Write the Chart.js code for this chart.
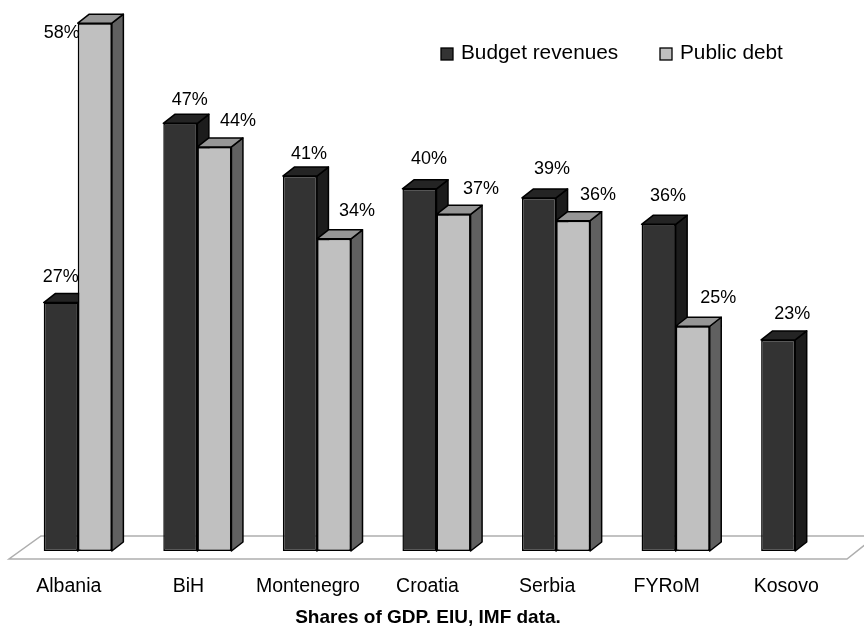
<!DOCTYPE html>
<html>
<head>
<meta charset="utf-8">
<style>
body { margin: 0; background: #fff; }
canvas { display: block; }
</style>
<script src="https://cdn.jsdelivr.net/npm/chart.js@4/dist/chart.umd.min.js"></script>
</head>
<body>
<canvas id="chart" width="864" height="630"></canvas>
<script>
const categories = ['Albania', 'BiH', 'Montenegro', 'Croatia', 'Serbia', 'FYRoM', 'Kosovo'];
const budgetRevenues = [27.3, 47.0, 41.2, 39.8, 38.8, 35.9, 23.2];
const publicDebt = [58.0, 44.4, 34.3, 37.0, 36.3, 24.7, null];
const seriesNames = ['Budget revenues', 'Public debt'];
const footNote = 'Shares of GDP. EIU, IMF data.';

const FONT = '"Liberation Sans", Arial, sans-serif';
const DEPTH_X = 11.5;
const DEPTH_Y = 9;

const SHADES = [
    { front: '#333333', side: '#1c1c1c', top: '#242424' },
    { front: '#c0c0c0', side: '#606060', top: '#969696' }
];

// label nudges from the bar's top centre, hand placed in the original
const LABEL_SHIFTS = [
    [[0, -26], [9.5, -23], [9, -22], [9.5, -30], [13, -29], [9.5, -28], [14, -26]],
    [[-33, 10], [23.5, -26], [23, -28], [27.5, -25], [25, -26], [25.5, -28], [0, 0]]
];

function face(ctx, points, fill) {
    ctx.beginPath();
    points.forEach((p, i) => i ? ctx.lineTo(p[0], p[1]) : ctx.moveTo(p[0], p[1]));
    ctx.closePath();
    ctx.fillStyle = fill;
    ctx.fill();
    ctx.stroke();
}

function drawDepth(chart, index) {
    const { ctx } = chart;
    const shade = SHADES[index];
    const values = chart.data.datasets[index].data;
    ctx.save();
    ctx.strokeStyle = '#000';
    ctx.lineWidth = 1.5;
    ctx.lineJoin = 'round';
    chart.getDatasetMeta(index).data.forEach((bar, i) => {
        if (values[i] === null) return;
        const left = bar.x - bar.width / 2;
        const right = bar.x + bar.width / 2;
        face(ctx, [[right, bar.y], [right + DEPTH_X, bar.y - DEPTH_Y], [right + DEPTH_X, bar.base - DEPTH_Y], [right, bar.base]], shade.side);
        face(ctx, [[left, bar.y], [left + DEPTH_X, bar.y - DEPTH_Y], [right + DEPTH_X, bar.y - DEPTH_Y], [right, bar.y]], shade.top);
    });
    ctx.restore();
}

const depthBars = {
    id: 'depthBars',
    beforeDatasetsDraw(chart) {
        // floor
        const { ctx, chartArea, scales } = chart;
        const base = scales.y.getPixelForValue(0);
        ctx.save();
        ctx.strokeStyle = '#aeaeae';
        ctx.lineWidth = 1.5;
        ctx.beginPath();
        ctx.moveTo(chartArea.right + 20, base - 15);
        ctx.lineTo(chartArea.left + 23, base - 15);
        ctx.lineTo(chartArea.left - 9, base + 8);
        ctx.lineTo(chartArea.right - 8, base + 8);
        ctx.lineTo(chartArea.right + 21, base - 15);
        ctx.stroke();
        ctx.restore();
    },
    afterDatasetsDraw(chart) {
        // dark bars sit behind the light ones, so the light fronts go again on top
        drawDepth(chart, 0);
        const values = chart.data.datasets[1].data;
        chart.getDatasetMeta(1).data.forEach((bar, i) => {
            if (values[i] !== null) bar.draw(chart.ctx);
        });
        drawDepth(chart, 1);
    },
    afterDraw(chart) {
        const { ctx } = chart;
        ctx.save();
        ctx.fillStyle = '#000';
        ctx.textAlign = 'center';
        ctx.textBaseline = 'middle';

        // value labels
        ctx.font = '18px ' + FONT;
        chart.data.datasets.forEach((ds, d) => {
            chart.getDatasetMeta(d).data.forEach((bar, i) => {
                if (ds.data[i] === null) return;
                const shift = LABEL_SHIFTS[d][i];
                ctx.fillText(Math.round(ds.data[i]) + '%', bar.x + shift[0], bar.y + shift[1]);
            });
        });

        // source line
        ctx.font = 'bold 19px ' + FONT;
        ctx.fillText(footNote, 428, 618);

        // legend
        ctx.font = '20.8px ' + FONT;
        ctx.textAlign = 'left';
        const legendX = [441, 660];
        seriesNames.forEach((name, i) => {
            ctx.fillStyle = SHADES[i].front;
            ctx.strokeStyle = '#000';
            ctx.lineWidth = 1.3;
            ctx.fillRect(legendX[i], 48, 12, 12);
            ctx.strokeRect(legendX[i], 48, 12, 12);
            ctx.fillStyle = '#000';
            ctx.fillText(name, legendX[i] + 20, 53);
        });
        ctx.restore();
    }
};

new Chart(document.getElementById('chart'), {
    type: 'bar',
    data: {
        labels: categories,
        datasets: [
            { label: seriesNames[0], data: budgetRevenues, backgroundColor: SHADES[0].front },
            { label: seriesNames[1], data: publicDebt, backgroundColor: SHADES[1].front }
        ]
    },
    options: {
        responsive: false,
        animation: false,
        layout: { padding: { left: 18, right: 9, top: 5, bottom: 0 } },
        datasets: {
            bar: {
                barPercentage: 1,
                categoryPercentage: 0.57,
                borderColor: '#000',
                borderWidth: 1.5,
                borderSkipped: false
            }
        },
        plugins: {
            legend: { display: false },
            tooltip: { enabled: false }
        },
        scales: {
            x: {
                grid: { display: false },
                border: { display: false },
                afterFit(scale) { scale.height = 79; },
                ticks: {
                    color: '#000',
                    font: { family: FONT, size: 19.5 },
                    padding: 16,
                    maxRotation: 0,
                    autoSkip: false,
                    labelOffset: -9
                }
            },
            y: {
                display: false,
                min: 0,
                max: 60
            }
        }
    },
    plugins: [depthBars]
});
</script>
</body>
</html>
